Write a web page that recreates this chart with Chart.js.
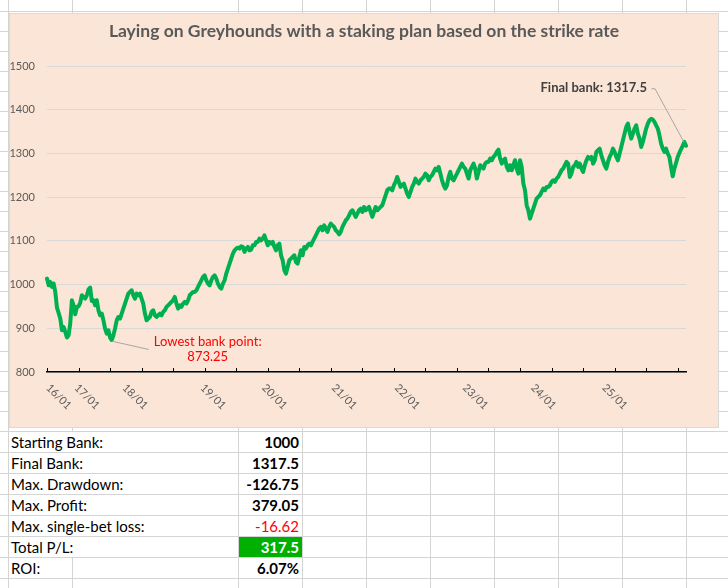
<!DOCTYPE html>
<html>
<head>
<meta charset="utf-8">
<script src="https://cdn.jsdelivr.net/npm/chart.js@4.4.1/dist/chart.umd.min.js"></script>
<style>
html, body { margin: 0; padding: 0; background: #fff; }
body { width: 728px; height: 588px; position: relative; overflow: hidden; font-family: Lato, sans-serif; }
.gl { position: absolute; background: #D4D4D4; }
#chartBox { position: absolute; left: 9px; top: 13px; width: 708px; height: 413px; border: 1px solid #D9D9D9; background: #FBE5D6; z-index: 2; }
.cell { position: absolute; height: 21px; line-height: 21px; font-size: 15px; color: #000; white-space: nowrap; z-index: 1; }
.val { text-align: right; font-weight: bold; padding-right: 3px; box-sizing: border-box; }
</style>
</head>
<body>
<div id="chartBox"><canvas id="bankChart"></canvas></div>
<script>
// bank balance after each bet
const bank = [
  1013.7, 998.4, 1006.0, 994.6, 1002.2, 983.1, 947.3, 935.1, 922.1, 895.4,
  903.1, 891.6, 878.8, 884.0, 910.7, 964.1, 952.6, 932.0, 948.8, 950.3,
  958.0, 975.5, 971.7, 967.9, 975.5, 988.5, 993.1, 962.6, 964.1, 952.6,
  964.1, 941.2, 929.8, 933.6, 918.3, 899.2, 887.8, 895.4, 878.6, 873.25,
  884.0, 899.2, 918.3, 925.9, 922.1, 933.6, 945.0, 956.5, 967.9, 979.3,
  983.1, 987.0, 975.5, 967.9, 979.3, 975.5, 979.3, 967.9, 956.5, 933.6,
  918.3, 922.1, 925.9, 937.4, 941.2, 929.8, 925.9, 929.8, 933.6, 929.8,
  937.4, 941.2, 948.8, 952.6, 956.5, 960.3, 964.1, 971.7, 956.5, 945.0,
  952.6,
  948.8, 956.4, 960.2, 956.4, 964.0, 975.5, 979.3, 983.1, 983.1, 986.9,
  994.5, 1002.2, 1009.8, 1017.4, 1021.2, 1009.8, 1002.2, 998.3, 1009.8, 1017.4,
  1021.2, 1013.6, 1002.2, 994.5, 990.7, 1002.2, 1009.8, 1025.0, 1036.5, 1047.9,
  1059.4, 1070.8, 1078.4, 1082.3, 1084.5, 1082.3, 1087.6, 1086.1, 1074.6, 1082.3,
  1086.1, 1078.4, 1080.0, 1089.9, 1089.9, 1097.5, 1097.5, 1105.1, 1101.3, 1105.1,
  1112.8, 1101.3, 1089.9, 1097.5, 1093.7, 1097.5, 1086.1, 1078.4, 1089.9, 1093.7,
  1067.0, 1055.6, 1032.7, 1025.0, 1040.3, 1055.6, 1059.4, 1063.2, 1067.0, 1051.7,
  1047.9, 1063.2, 1078.4, 1067.0, 1086.1, 1082.3, 1089.9, 1093.7,
  1089.9, 1097.5, 1105.1, 1112.7, 1120.4, 1128.0, 1131.8, 1124.2, 1135.6, 1128.0,
  1120.4, 1131.8, 1139.4, 1135.6, 1131.8, 1124.2, 1120.4, 1115.0, 1120.4, 1131.8,
  1139.4, 1147.1, 1150.9, 1158.5, 1166.1, 1170.0, 1162.3, 1154.7, 1162.3, 1170.0,
  1173.8, 1166.1, 1177.6, 1170.0, 1173.8, 1177.6, 1166.1, 1154.7, 1166.1, 1177.6,
  1170.0, 1173.8, 1177.6, 1181.4, 1192.8, 1204.3, 1215.7, 1219.5, 1219.5, 1215.7,
  1227.2, 1234.8, 1246.2, 1234.8, 1223.4, 1227.2, 1231.0, 1219.5, 1208.1, 1200.5,
  1211.9, 1223.4, 1231.0, 1242.4, 1234.8, 1231.0, 1238.6, 1242.4, 1246.2, 1253.9,
  1250.1, 1238.6, 1246.2, 1250.1, 1257.7, 1265.3, 1261.5, 1269.1,
  1253.9, 1238.6, 1227.2, 1219.6, 1227.2, 1246.3, 1257.7, 1242.5, 1238.6, 1246.3,
  1253.9, 1261.5, 1269.2, 1276.8, 1269.2, 1265.3, 1253.9, 1242.5, 1261.5, 1269.2,
  1276.8, 1265.3, 1242.5, 1257.7, 1273.0, 1269.2, 1265.3, 1276.8, 1280.6, 1280.6,
  1288.2, 1284.4, 1292.0, 1295.9, 1303.5, 1308.8, 1288.2, 1276.8, 1284.4, 1288.2,
  1269.2, 1261.5, 1273.0, 1261.5, 1273.0, 1284.4, 1265.3, 1253.9, 1284.4, 1269.2,
  1231.0, 1215.8, 1181.4, 1170.0, 1150.9, 1162.4, 1173.8, 1185.2, 1196.7, 1200.5,
  1204.3, 1211.9, 1219.6, 1215.8, 1223.4, 1223.4, 1227.2, 1234.8, 1238.6, 1234.8,
  1242.5, 1246.3, 1253.9, 1261.5, 1265.3, 1273.0, 1280.6, 1276.8,
  1246.2, 1253.8, 1269.1, 1272.9, 1280.5, 1269.1, 1276.7, 1265.3, 1257.6, 1272.9,
  1284.3, 1292.0, 1288.1, 1292.0, 1276.7, 1284.3, 1303.4, 1307.2, 1311.0, 1295.8,
  1284.3, 1272.9, 1265.3, 1280.5, 1292.0, 1299.6, 1311.0, 1303.4, 1292.0, 1284.3,
  1299.6, 1314.8, 1330.1, 1345.4, 1360.6, 1368.2, 1349.2, 1333.9, 1345.4, 1356.8,
  1364.4, 1345.4, 1333.9, 1314.8, 1326.3, 1341.5, 1356.8, 1368.2, 1375.9, 1379.05,
  1377.4, 1372.0, 1364.4, 1356.8, 1341.5, 1322.5, 1311.0, 1303.4, 1311.0, 1299.6,
  1292.0, 1269.1, 1247.7, 1265.3, 1278.2, 1292.0, 1301.1, 1309.5, 1317.1, 1326.3,
  1317.5
];

// first bet of each day
const dayLabels = ['16/01', '17/01', '18/01', '19/01', '20/01', '21/01', '22/01', '23/01', '24/01', '25/01'];
const dayStart = [0, 17, 46, 93, 130, 172, 210, 251, 292, 335];
const tickEvery = 19;

const yMin = 800, yMax = 1500, yStep = 100;

const statNames = ['Starting Bank:', 'Final Bank:', 'Max. Drawdown:', 'Max. Profit:', 'Max. single-bet loss:', 'Total P/L:', 'ROI:'];
const statValues = ['1000', '1317.5', '-126.75', '379.05', '-16.62', '317.5', '6.07%'];

// spreadsheet grid behind everything
const colX = [8, 72, 238, 302, 366, 430, 494, 558, 622, 686];
const rowY = [];
for (let y = 11; y <= 431; y += 20) rowY.push(y);
for (let y = 452; y <= 588; y += 21) rowY.push(y);
const tableTop = 431, rowH = 21;

function line(x, y, w, h) {
  const d = document.createElement('div');
  d.className = 'gl';
  d.style.cssText = `left:${x}px;top:${y}px;width:${w}px;height:${h}px`;
  document.body.appendChild(d);
}
rowY.forEach(y => line(0, y, 728, 1));
colX.forEach(x => {
  if (x === 72) {
    line(x, 0, 1, tableTop);
    line(x, tableTop + rowH * 6, 1, 588);
  } else {
    line(x, 0, 1, 588);
  }
});

statNames.forEach((name, i) => {
  const top = tableTop + rowH * i + 1;
  const a = document.createElement('div');
  a.className = 'cell';
  a.style.left = '11px';
  a.style.top = top + 'px';
  a.textContent = name;
  document.body.appendChild(a);

  const v = document.createElement('div');
  v.className = 'cell val';
  v.style.left = '239px';
  v.style.width = '63px';
  v.style.top = top + 'px';
  v.style.height = '20px';
  v.style.lineHeight = '20px';
  v.textContent = statValues[i];
  if (name.startsWith('Max. single')) { v.style.color = '#FF0000'; v.style.fontWeight = 'normal'; }
  if (name.startsWith('Total')) { v.style.background = '#00B000'; v.style.color = '#fff'; }
  document.body.appendChild(v);
});

Chart.defaults.font.family = 'Lato, sans-serif';

const overlay = {
  id: 'overlay',
  afterDatasetsDraw(chart) {
    const { ctx, chartArea: a, scales: { x, y } } = chart;
    ctx.save();

    // tick marks pointing into the plot
    ctx.strokeStyle = '#000';
    ctx.lineWidth = 1;
    for (let i = 0; i < bank.length; i += tickEvery) {
      const px = Math.round(x.getPixelForValue(i)) + 0.5;
      ctx.beginPath();
      ctx.moveTo(px, a.bottom - 4);
      ctx.lineTo(px, a.bottom);
      ctx.stroke();
    }

    // date labels, rotated down to the right
    ctx.fillStyle = '#595959';
    ctx.font = '11px Lato, sans-serif';
    ctx.textAlign = 'left';
    ctx.textBaseline = 'middle';
    dayLabels.forEach((t, k) => {
      const px = x.getPixelForValue(dayStart[k]);
      ctx.save();
      ctx.translate(px + 1, a.bottom + 14);
      ctx.rotate(Math.PI / 4);
      ctx.fillText(t, 0, 0);
      ctx.restore();
    });

    // lowest point callout
    const low = Math.min(...bank);
    const iMin = bank.indexOf(low);
    const mx = x.getPixelForValue(iMin), my = y.getPixelForValue(low);
    ctx.strokeStyle = '#A6A6A6';
    ctx.beginPath();
    ctx.moveTo(mx + 1.5, my + 1.5);
    ctx.lineTo(mx + 37, my + 9.5);
    ctx.stroke();
    ctx.fillStyle = '#FF0000';
    ctx.font = '13px Lato, sans-serif';
    ctx.textAlign = 'center';
    ctx.fillText('Lowest bank point:', mx + 96, my + 1.5);
    ctx.fillText(low.toFixed(2), mx + 96, my + 17);

    // final bank callout
    const iLast = bank.length - 1;
    const fx = x.getPixelForValue(iLast), fy = y.getPixelForValue(bank[iLast]);
    ctx.strokeStyle = '#A6A6A6';
    ctx.beginPath();
    ctx.moveTo(fx - 2, fy - 3.5);
    ctx.lineTo(fx - 31, fy - 57);
    ctx.lineTo(fx - 34.5, fy - 57);
    ctx.stroke();
    ctx.fillStyle = '#404040';
    ctx.font = 'bold 13px Lato, sans-serif';
    ctx.textAlign = 'right';
    ctx.fillText('Final bank: ' + bank[iLast], fx - 39, fy - 58);

    ctx.restore();
  }
};

new Chart(document.getElementById('bankChart').getContext('2d'), {
  type: 'line',
  data: {
    labels: bank.map((_, i) => {
      const k = dayStart.indexOf(i);
      return k >= 0 ? dayLabels[k] : '';
    }),
    datasets: [{
      label: 'Bank',
      data: bank,
      borderColor: '#00B050',
      borderWidth: 4,
      borderJoinStyle: 'round',
      borderCapStyle: 'round',
      pointRadius: 0,
      tension: 0,
      fill: false
    }]
  },
  options: {
    responsive: true,
    maintainAspectRatio: false,
    animation: false,
    layout: { padding: { left: 0, right: 0, top: 0, bottom: 55 } },
    plugins: {
      legend: { display: false },
      tooltip: { enabled: false },
      title: {
        display: true,
        text: 'Laying on Greyhounds with a staking plan based on the strike rate',
        color: '#595959',
        font: { size: 17.5, weight: 'bold' },
        padding: { top: 7, bottom: 24 }
      }
    },
    scales: {
      x: {
        type: 'category',
        ticks: { display: false },
        grid: { display: false },
        border: { display: true, color: '#000', width: 1.5 },
        afterFit: s => { s.height = 0; }
      },
      y: {
        min: yMin,
        max: yMax,
        ticks: { stepSize: yStep, color: '#595959', font: { size: 11 }, padding: 12, callback: v => String(v) },
        grid: { color: '#D9D9D9', drawTicks: false },
        border: { display: false },
        afterFit: s => { s.width = 37; s.paddingTop = 0; s.paddingBottom = 0; }
      },
      yRight: {
        position: 'right',
        ticks: { display: false },
        grid: { display: false, drawTicks: false },
        border: { display: false },
        afterFit: s => { s.width = 32; s.paddingTop = 0; s.paddingBottom = 0; }
      }
    }
  },
  plugins: [overlay]
});
</script>
</body>
</html>
